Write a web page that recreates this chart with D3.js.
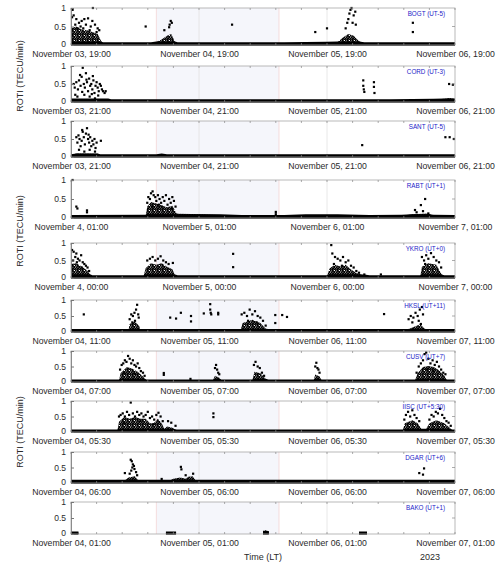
<!doctype html>
<meta charset="utf-8">
<script src="https://d3js.org/d3.v7.min.js"></script>
<style>
  body { margin: 0; background: #fff; }
  text { font-family: "Liberation Sans", Arial, sans-serif; }
</style>
<body>
</body>
<script>

// station names and the local-time tick labels of each panel
var stations = ["BOGT (UT-5)", "CORD (UT-3)", "SANT (UT-5)", "RABT (UT+1)", "YKRO (UT+0)",
                "HKSL (UT+11)", "CUSV (UT+7)", "IISC (UT+5:30)", "DGAR (UT+6)", "BAKO (UT+1)"];

var tickLabels = [
  ["November 03, 19:00", "November 04, 19:00", "November 05, 19:00", "November 06, 19:00"],
  ["November 03, 21:00", "November 04, 21:00", "November 05, 21:00", "November 06, 21:00"],
  ["November 03, 21:00", "November 04, 21:00", "November 05, 21:00", "November 06, 21:00"],
  ["November 4, 01:00", "November 5, 01:00", "November 6, 01:00", "November 7, 01:00"],
  ["November 4, 00:00", "November 5, 00:00", "November 6, 00:00", "November 7, 00:00"],
  ["November 04, 11:00", "November 05, 11:00", "November 06, 11:00", "November 07, 11:00"],
  ["November 04, 07:00", "November 05, 07:00", "November 06, 07:00", "November 07, 07:00"],
  ["November 04, 05:30", "November 05, 05:30", "November 06, 05:30", "November 07, 05:30"],
  ["November 04, 06:00", "November 05, 06:00", "November 06, 06:00", "November 07, 06:00"],
  ["November 04, 01:00", "November 05, 01:00", "November 06, 01:00", "November 07, 01:00"]
];

var tickHours = [0, 24, 48, 72];
var yTicks = [0, 0.5, 1];
var storm = [16, 39];   // shaded interval, hours from panel start

// dense part of the ROTI cloud: [hour, top value]
var bogtBand = [[0,0.45],[1,0.5],[2,0.42],[3,0.4],[4,0.35],[5,0.3],[5.6,0.12],[6,0.05],[15,0.05],[16,0.08],[17,0.15],[18,0.25],[18.8,0.3],[19.5,0.08],[20,0.05],[40,0.05],[48,0.06],[50,0.08],[51,0.2],[52,0.3],[53,0.25],[54,0.1],[55,0.05],[72,0.05]];
var cordBand = [[0,0.08],[7,0.08],[7.5,0.05],[60,0.05],[68,0.06],[70,0.09],[71,0.11],[72,0.08]];
var santBand = [[0,0.05],[1,0.1],[5,0.09],[5.5,0.05],[16,0.05],[17,0.08],[18,0.05],[72,0.05]];
var rabtBand = [[0,0.05],[14,0.06],[14.3,0.3],[15,0.42],[16,0.38],[17,0.33],[18,0.28],[19,0.32],[19.7,0.14],[20,0.11],[25,0.1],[28,0.08],[32,0.05],[40,0.05],[44,0.08],[50,0.07],[56,0.05],[62,0.06],[64,0.1],[67,0.12],[68,0.06],[72,0.05]];
var ykroBand = [[0,0.4],[1,0.42],[2,0.33],[3,0.22],[3.7,0.08],[4,0.05],[13.6,0.05],[14,0.28],[15,0.42],[16,0.38],[17,0.42],[18,0.32],[19,0.25],[19.5,0.08],[20,0.05],[48,0.05],[48.5,0.28],[49.5,0.38],[50.5,0.33],[51.5,0.38],[52.5,0.24],[53.5,0.14],[55,0.07],[56,0.05],[65.5,0.05],[65.8,0.32],[67,0.42],[68.5,0.38],[69.5,0.1],[70,0.05],[72,0.05]];
var hkslBand = [[0,0.06],[10.8,0.06],[11,0.25],[12,0.33],[12.8,0.18],[13,0.06],[31.8,0.06],[32.2,0.28],[34,0.38],[35.5,0.28],[36.5,0.1],[37,0.06],[63,0.06],[64,0.14],[65.5,0.24],[66.3,0.1],[66.5,0.06],[72,0.06]];
var cusvBand = [[0,0.05],[9,0.05],[9.3,0.28],[10.5,0.48],[11.5,0.43],[12.5,0.33],[13.5,0.18],[14.2,0.05],[26.6,0.05],[27,0.2],[27.8,0.14],[28.2,0.05],[34,0.05],[34.4,0.33],[35.5,0.28],[36.5,0.1],[37,0.05],[45.5,0.05],[45.8,0.24],[46.6,0.18],[47,0.05],[64.5,0.05],[65,0.28],[66,0.48],[67,0.52],[68,0.48],[69,0.38],[70,0.2],[70.5,0.05],[72,0.05]];
var iiscBand = [[0,0.05],[8.7,0.05],[9,0.33],[10,0.48],[11,0.43],[12,0.48],[13,0.43],[14,0.43],[14.8,0.28],[15.5,0.28],[16.3,0.43],[17,0.28],[17.5,0.1],[18,0.18],[19,0.14],[19.8,0.05],[62.2,0.05],[62.6,0.28],[64,0.38],[65,0.28],[65.7,0.1],[66.5,0.07],[67.2,0.28],[68.5,0.38],[70,0.28],[71,0.14],[71.5,0.05],[72,0.05]];
var dgarBand = [[0,0.07],[10,0.07],[10.8,0.18],[12,0.22],[12.6,0.08],[18.5,0.08],[19.2,0.14],[20.5,0.18],[21.5,0.14],[22,0.2],[22.8,0.22],[23.3,0.1],[24,0.07],[72,0.07]];
var bakoBand = [[0,0.05],[1.4,0.05],[1.5,null],[17.8,0.05],[19.7,0.05],[19.8,null],[36,0.07],[36.5,0.12],[37.1,0.06],[37.2,null],[54,0.05],[55.5,0.05]];

// scattered samples above the dense part: [hour, value]
var bogtDots = [[0.3,0.95],[0.2,0.75],[0.5,0.8],[1,0.7],[1.5,0.6],[1.2,0.45],[1.8,0.5],[2,0.65],[2.5,0.7],[2.8,0.55],[3.2,0.72],[3.7,0.5],[4,0.65],[4.1,1.0],[4.5,0.55],[5,0.45],[5.3,0.4],[0.8,0.55],[2.3,0.45],[3.5,0.4],[4.8,0.35],
  [14,0.5],[17.5,0.4],[18.4,0.48],[18.5,0.55],[18.7,0.65],[18.9,0.6],[30.2,0.55],[45.8,0.35],[48,0.45],
  [51.5,0.45],[51.8,0.6],[52,0.7],[52.2,0.85],[52.4,0.95],[52.6,1.0],[52.8,0.6],[53,0.8],[53.3,0.9],[53.4,0.55],[64.1,0.6],[64.1,0.35]];
var cordDots = [[0.5,0.5],[0.7,0.4],[0.8,0.2],[1,0.55],[1.2,0.15],[1.3,0.35],[1.5,0.6],[1.7,0.75],[1.8,0.45],[2,0.7],[2.1,0.28],[2.2,0.95],[2.4,0.5],[2.5,0.2],[2.6,0.4],[2.8,0.8],[2.9,0.62],[3,0.55],[3.2,0.3],[3.4,0.65],[3.5,0.15],[3.6,0.45],[3.8,0.5],[3.9,0.22],[4,0.35],[4.1,0.72],[4.2,0.6],[4.4,0.25],[4.5,0.1],[4.6,0.45],[4.8,0.55],[5,0.4],[5.1,0.18],[5.2,0.3],[5.4,0.5],[5.6,0.45],[5.8,0.35],[6,0.3],[6.3,0.25],[6.5,0.3],
  [54.8,0.6],[54.8,0.45],[54.9,0.35],[55,0.28],[56.8,0.55],[56.8,0.42],[56.9,0.25],[70.9,0.5],[71.6,0.48]];
var santDots = [[1,0.55],[1.2,0.4],[1.4,0.6],[1.5,0.2],[1.6,0.5],[1.8,0.3],[2,0.45],[2.1,0.75],[2.2,0.7],[2.4,0.55],[2.5,0.15],[2.6,0.35],[2.8,0.65],[3,0.8],[3.2,0.5],[3.3,0.62],[3.4,0.4],[3.5,0.2],[3.6,0.55],[3.8,0.3],[4,0.45],[4.2,0.35],[4.4,0.5],[4.5,0.15],[4.6,0.25],[4.8,0.4],[5.6,0.45],
  [54.6,0.33],[70.2,0.55],[71,0.55],[71.8,0.5]];
var rabtDots = [[0.3,1.0],[1,0.3],[1.2,0.25],[3,0.2],[3,0.15],
  [14.3,0.4],[14.5,0.55],[14.8,0.5],[15,0.65],[15.2,0.3],[15.3,0.7],[15.5,0.6],[15.8,0.55],[16,0.45],[16.3,0.6],[16.5,0.35],[16.6,0.5],[16.9,0.4],[17,0.3],[17.2,0.55],[17.5,0.45],[17.8,0.6],[18.1,0.35],[18.4,0.5],[18.7,0.4],[18.9,0.25],[19,0.55],[19.3,0.45],[19.6,0.3],
  [38.4,0.16],[38.4,0.1],[64.5,0.21],[64.8,0.15],[65.6,0.34],[66,0.18],[66.4,0.5],[67,0.12]];
var ykroDots = [[0.2,0.8],[0.4,0.5],[0.5,0.75],[0.8,0.6],[1,0.7],[1.1,0.45],[1.3,0.55],[1.6,0.5],[1.9,0.65],[2,0.3],[2.2,0.45],[2.5,0.4],[2.8,0.35],[3.1,0.3],[3.4,0.2],
  [14.3,0.5],[14.8,0.55],[15.3,0.6],[15.8,0.5],[16.3,0.55],[16.8,0.62],[17.3,0.5],[17.8,0.45],[18.3,0.4],[19.1,0.43],
  [30.4,0.69],[30.4,0.31],
  [48.8,0.94],[49,0.7],[49.3,0.4],[49.5,0.6],[50,0.55],[50.5,0.5],[50.8,0.35],[51,0.6],[51.5,0.45],[52,0.5],[52.5,0.35],[53,0.3],[53.5,0.2],[54,0.15],[55,0.1],[58.1,0.1],
  [65.8,0.6],[66.2,0.5],[66.4,0.4],[66.6,0.65],[67,0.55],[67.5,0.71],[68,0.6],[68.5,0.5],[69,0.45],[69.4,0.3]];
var hkslDots = [[2.4,0.55],
  [11,0.4],[11.3,0.55],[11.5,0.3],[11.6,0.5],[11.9,0.6],[12,0.35],[12.2,0.7],[12.4,0.85],[12.6,0.55],[12.7,0.45],
  [18.6,0.45],[19.7,0.42],[20.6,0.6],[22.5,0.5],[22.5,0.33],[24.9,0.58],[26.1,0.87],[26.1,0.7],[26.2,0.6],[26.3,0.55],[27.6,0.6],[27.6,0.55],
  [32,0.55],[32.5,0.6],[33,0.5],[33.2,0.35],[33.5,0.7],[34,0.55],[34.5,0.65],[34.8,0.3],[35,0.5],[35.5,0.45],[36,0.35],[36.5,0.2],
  [38.3,0.53],[38.3,0.28],[39.6,0.53],[40.5,0.47],[58.7,0.56],
  [63.3,0.4],[63.7,0.5],[64,0.3],[64.2,0.45],[64.6,0.6],[65,0.5],[65.2,0.35],[65.4,0.7],[65.6,0.25],[65.8,0.78],[66,0.55]];
var cusvDots = [[9.2,0.4],[9.5,0.55],[9.8,0.6],[10,0.3],[10.1,0.7],[10.4,0.65],[10.7,0.84],[11,0.75],[11.3,0.6],[11.6,0.7],[11.9,0.55],[12,0.25],[12.2,0.5],[12.5,0.6],[12.8,0.45],[13.1,0.35],[13.5,0.3],[13.8,0.2],
  [17.4,0.29],[17.4,0.23],[22.4,0.1],
  [27,0.45],[27.2,0.55],[27.4,0.4],[27.6,0.3],[27.8,0.25],
  [34.3,0.55],[34.6,0.65],[35,0.5],[35.4,0.45],[35.8,0.3],[36.2,0.2],
  [45.8,0.5],[46,0.62],[46.2,0.45],[46.4,0.4],[46.6,0.3],
  [64.8,0.3],[65.2,0.5],[65.6,0.6],[66,0.7],[66.3,0.9],[66.6,0.95],[66.8,0.4],[67,0.75],[67.4,0.6],[67.8,0.7],[68,0.35],[68.2,0.55],[68.6,0.65],[69,0.5],[69.4,0.4],[69.8,0.3],[70.2,0.25]];
var iiscDots = [[9,0.5],[9.3,0.55],[9.7,0.6],[10,0.3],[10.1,0.5],[10.5,0.65],[10.9,0.55],[11.2,0.95],[11.6,0.6],[12,0.5],[12.4,0.65],[12.8,0.55],[13,0.35],[13.2,0.6],[13.6,0.5],[14,0.55],[14.4,0.65],[14.8,0.45],[15.2,0.5],[15.5,0.25],[15.6,0.4],[16,0.55],[16.4,0.62],[16.8,0.5],[17.2,0.35],[18.2,0.35],[18.8,0.3],[19.6,0.2],
  [26.7,0.6],[26.7,0.48],
  [62.5,0.4],[62.8,0.55],[63.2,0.65],[63.6,0.5],[64,0.7],[64.4,0.55],[64.8,0.45],[65.3,0.35],
  [67.2,0.4],[67.6,0.55],[68,0.5],[68.4,0.65],[68.8,0.6],[69.2,0.75],[69.6,0.55],[70,0.45],[70.4,0.35],[70.8,0.3],[71.2,0.2]];
var dgarDots = [[10.1,0.32],[11,0.3],[11.2,0.75],[11.3,0.4],[11.4,0.7],[11.5,0.5],[11.6,0.6],[11.8,0.55],[11.9,0.45],[12.2,0.35],[12.4,0.25],
  [17,0.13],[20.6,0.52],[20.7,0.44],[21.5,0.25],[22.9,0.3],
  [65.3,0.32],[66,0.27],[66.2,0.47]];
var bakoDots = [];

var bands = [bogtBand, cordBand, santBand, rabtBand, ykroBand, hkslBand, cusvBand, iiscBand, dgarBand, bakoBand];
var dots = [bogtDots, cordDots, santDots, rabtDots, ykroDots, hkslDots, cusvDots, iiscDots, dgarDots, bakoDots];

// panel layout (pixels)
var panelTop = [8, 66, 121, 180, 243, 300, 351, 401, 452, 502];
var panelBottom = [45, 102, 157, 218, 278, 332, 382, 432, 483, 534];
var left = 71, right = 455;

var svg = d3.select("body").append("svg").attr("width", 500).attr("height", 567);

// speckle texture so the dense clouds read as packed dots
var pat = svg.append("defs").append("pattern")
  .attr("id", "speckle").attr("patternUnits", "userSpaceOnUse")
  .attr("width", 5).attr("height", 5);
[[0.5,0.5],[2.8,0.9],[4.3,2.0],[1.6,2.4],[0.3,3.9],[3.1,3.6],[2.2,4.6],[4.6,4.4]].forEach(function(p) {
  pat.append("rect").attr("x", p[0] - 1).attr("y", p[1] - 1)
    .attr("width", 2).attr("height", 2).style("fill", "#000");
});

var x = d3.scaleLinear().domain([0, 72]).range([left, right]);
var minorTicks = d3.range(0, 72.01, 4.8);

stations.forEach(function(name, i) {
  var y = d3.scaleLinear().domain([0, 1]).range([panelBottom[i], panelTop[i]]);
  var g = svg.append("g");

  // storm period shading
  g.append("rect")
    .attr("x", x(storm[0])).attr("y", panelTop[i])
    .attr("width", x(storm[1]) - x(storm[0])).attr("height", panelBottom[i] - panelTop[i])
    .style("fill", "#f5f6fb");
  storm.forEach(function(h) {
    g.append("line").attr("x1", x(h)).attr("x2", x(h))
      .attr("y1", panelTop[i]).attr("y2", panelBottom[i])
      .style("stroke", "#f2d4d4").style("stroke-width", 0.8);
  });

  // day grid lines
  g.selectAll(".grid").data([24, 48]).enter().append("line")
    .attr("x1", x).attr("x2", x)
    .attr("y1", panelTop[i]).attr("y2", panelBottom[i])
    .style("stroke", "#e2e2e2").style("stroke-width", 0.8);

  // dense cloud of samples (speckled) and the packed strip near zero (solid)
  var defined = function(d) { return d[1] != null; };
  var cloud = d3.area().defined(defined)
    .x(function(d) { return x(d[0]); })
    .y0(y(0))
    .y1(function(d) { return y(d[1]); });
  var strip = d3.area().defined(defined)
    .x(function(d) { return x(d[0]); })
    .y0(y(0) + 0.8)
    .y1(function(d) { return y(Math.min(d[1], 0.07)) - 1; });
  g.append("path").datum(bands[i]).attr("d", cloud)
    .style("fill", "url(#speckle)");
  g.append("path").datum(bands[i]).attr("d", strip)
    .style("fill", "#000");

  g.selectAll(".dot").data(dots[i]).enter().append("rect")
    .attr("x", function(d) { return x(d[0]) - 1.1; })
    .attr("y", function(d) { return y(d[1]) - 1.1; })
    .attr("width", 2.2).attr("height", 2.2)
    .style("fill", "#000");

  // box
  g.append("rect")
    .attr("x", left).attr("y", panelTop[i])
    .attr("width", right - left).attr("height", panelBottom[i] - panelTop[i])
    .style("fill", "none").style("stroke", "#a8a8a8").style("stroke-width", 0.8);

  // minor x ticks, inward on top and bottom
  g.selectAll(".mt").data(minorTicks).enter().append("line")
    .attr("x1", x).attr("x2", x)
    .attr("y1", panelTop[i]).attr("y2", panelTop[i] + 2)
    .style("stroke", "#888").style("stroke-width", 0.7);
  g.selectAll(".mb").data(minorTicks).enter().append("line")
    .attr("x1", x).attr("x2", x)
    .attr("y1", panelBottom[i]).attr("y2", panelBottom[i] - 2)
    .style("stroke", "#888").style("stroke-width", 0.7);

  // y axis
  var yAxis = d3.axisLeft(y).tickValues(yTicks).tickSize(-3).tickPadding(5)
    .tickFormat(function(d) { return d === 0.5 ? "0.5" : d3.format("d")(d); });
  var ya = g.append("g").attr("transform", "translate(" + left + ",0)").call(yAxis);
  ya.select(".domain").style("stroke", "#777").style("stroke-width", 0.8);
  ya.selectAll(".tick line").style("stroke", "#777");
  ya.selectAll("text").style("font-size", "8.5px").style("fill", "#2a2a2a")
    .attr("dy", function(d) { return d === 0 ? "0.2em" : "0.32em"; });
  g.selectAll(".rt").data([0.5]).enter().append("line")
    .attr("x1", right).attr("x2", right - 3)
    .attr("y1", y).attr("y2", y)
    .style("stroke", "#888").style("stroke-width", 0.7);

  // x axis labels
  var xAxis = d3.axisBottom(x).tickValues(tickHours).tickSize(0).tickPadding(5.5)
    .tickFormat(function(d, k) { return tickLabels[i][k]; });
  var xa = g.append("g").attr("transform", "translate(0," + panelBottom[i] + ")").call(xAxis);
  xa.select(".domain").remove();
  xa.selectAll("text").style("font-size", "8.7px").style("fill", "#2a2a2a");

  // station label
  g.append("text")
    .attr("x", right - 10).attr("y", panelTop[i] + 8)
    .attr("text-anchor", "end")
    .style("font-size", "6.3px").style("fill", "#1c1cc8")
    .text(name);
});

// y labels
[76, 231, 432].forEach(function(cy) {
  svg.append("text")
    .attr("transform", "translate(23," + cy + ") rotate(-90)")
    .attr("text-anchor", "middle")
    .style("font-size", "9px").style("fill", "#2a2a2a")
    .text("ROTI (TECU/min)");
});

svg.append("text").attr("x", 263).attr("y", 560).attr("text-anchor", "middle")
  .style("font-size", "9px").style("fill", "#2a2a2a").text("Time (LT)");
svg.append("text").attr("x", 430).attr("y", 560).attr("text-anchor", "middle")
  .style("font-size", "9px").style("fill", "#2a2a2a").text("2023");

</script>
